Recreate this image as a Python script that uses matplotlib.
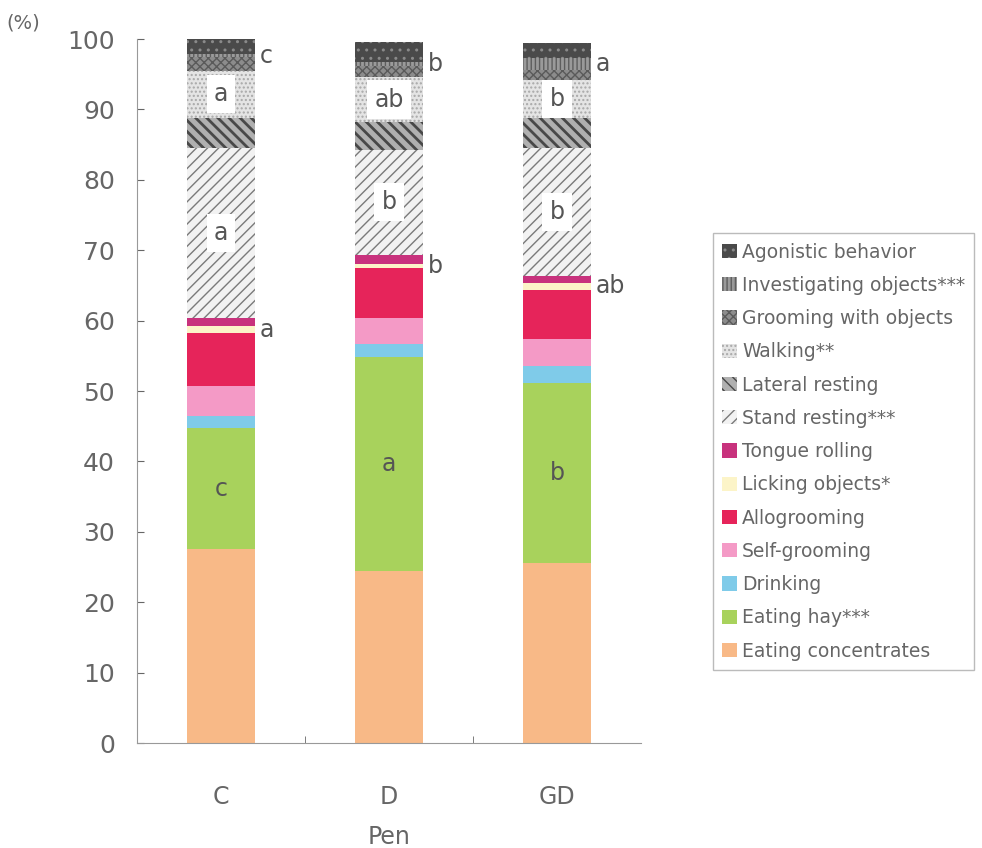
import matplotlib
matplotlib.use("Agg")
import matplotlib.pyplot as plt
import numpy as np

pens = ["C", "D", "GD"]

# behaviours, bottom of the stack first
behaviours = ["Eating concentrates", "Eating hay***", "Drinking", "Self-grooming",
              "Allogrooming", "Licking objects*", "Tongue rolling", "Stand resting***",
              "Lateral resting", "Walking**", "Grooming with objects",
              "Investigating objects***", "Agonistic behavior"]

eating_conc = [27.5, 24.4, 25.5]
eating_hay = [17.3, 30.4, 25.7]
drinking = [1.6, 1.9, 2.3]
self_groom = [4.3, 3.7, 3.9]
allogroom = [7.5, 7.1, 7.0]
licking = [1.0, 0.5, 1.0]
tongue = [1.1, 1.3, 0.9]
stand_rest = [24.2, 15.0, 18.2]
lateral_rest = [4.3, 3.9, 4.3]
walking = [6.7, 6.4, 5.4]
groom_obj = [2.0, 1.6, 1.4]
investigating = [0.3, 0.6, 1.7]
agonistic = [2.2, 2.8, 2.1]

# significance letters per pen
hay_letters = ["c", "a", "b"]
lick_letters = ["a", "b", "ab"]
stand_letters = ["a", "b", "b"]
walk_letters = ["a", "ab", "b"]
invest_letters = ["c", "b", "a"]

series = [eating_conc, eating_hay, drinking, self_groom, allogroom, licking, tongue,
          stand_rest, lateral_rest, walking, groom_obj, investigating, agonistic]

# (facecolor, hatch colour, hatch)
styles = [("#f8b987", None, None),
          ("#a8d25c", None, None),
          ("#7fcbe9", None, None),
          ("#f49ac6", None, None),
          ("#e6245a", None, None),
          ("#fcf4c8", None, None),
          ("#c8327d", None, None),
          ("#f2f2f2", "#7a7a7a", "///"),
          ("#b0b0b0", "#484848", "\\\\\\"),
          ("#e4e4e4", "#a8a8a8", "...."),
          ("#8c8c8c", "#5a5a5a", "xxxx"),
          ("#9a9a9a", "#5e5e5e", "||||"),
          ("#4a4a4a", "#8a8a8a", "..")]

grey = "#666666"

fig = plt.figure(figsize=(9.82, 8.48), dpi=100)
ax = fig.add_axes([0.1395, 0.1238, 0.5132, 0.8302])

x = np.arange(len(pens))
width = 0.4
bottom = np.zeros(len(pens))
handles = []
for name, vals, (fc, hc, hatch) in zip(behaviours, series, styles):
    vals = np.array(vals)
    if hatch:
        bars = ax.bar(x, vals, width, bottom=bottom, color=fc, edgecolor=hc,
                      hatch=hatch, linewidth=0, label=name)
    else:
        bars = ax.bar(x, vals, width, bottom=bottom, color=fc, linewidth=0, label=name)
    for b in bars:
        if hasattr(b, "set_hatch_linewidth"):
            b.set_hatch_linewidth(2.0 if name == "Lateral resting" else 1.0)
    handles.append(bars)
    bottom = bottom + vals

cum = np.cumsum(np.array(series), axis=0)


def mid(i):
    lower = cum[i - 1] if i > 0 else np.zeros(len(pens))
    return (lower + cum[i]) / 2


txt = dict(fontsize=17, color="#555555")
box = dict(facecolor="white", edgecolor="none", boxstyle="square,pad=0.3")
for j in range(len(pens)):
    ax.text(x[j], mid(1)[j], hay_letters[j], ha="center", va="center", **txt)
    ax.text(x[j], mid(7)[j], stand_letters[j], ha="center", va="center", bbox=box, **txt)
    ax.text(x[j], mid(9)[j], walk_letters[j], ha="center", va="center", bbox=box, **txt)
    ax.text(x[j] + width / 2 + 0.03, mid(5)[j], lick_letters[j], ha="left", va="center", **txt)
    ax.text(x[j] + width / 2 + 0.03, mid(11)[j], invest_letters[j], ha="left", va="center", **txt)

ax.set_xlim(-0.5, 2.5)
ax.set_ylim(0, 100)
ax.set_yticks(np.arange(0, 101, 10))
ax.set_xticks(x)
ax.set_xticklabels(pens)
ax.set_xticks([0.5, 1.5], minor=True)
ax.tick_params(axis="y", direction="in", length=5, color=grey, labelcolor=grey,
               labelsize=18, pad=16)
ax.tick_params(axis="x", which="major", length=0, labelcolor=grey, labelsize=17, pad=30)
ax.tick_params(axis="x", which="minor", direction="in", length=5, color=grey)
for s in ["top", "right"]:
    ax.spines[s].set_visible(False)
for s in ["left", "bottom"]:
    ax.spines[s].set_color("#999999")
ax.set_xlabel("Pen", fontsize=17, color=grey, labelpad=12)
fig.text(0.007, 0.973, "(%)", fontsize=14, color=grey, ha="left", va="center")

leg = fig.legend(handles[::-1], behaviours[::-1], loc="upper left",
                 bbox_to_anchor=(0.726, 0.725), borderaxespad=0, frameon=True,
                 fancybox=False, fontsize=13.5, handlelength=0.8, handleheight=0.8,
                 handletextpad=0.25, labelspacing=0.76, borderpad=0.5, labelcolor=grey)
leg.get_frame().set_edgecolor("#aaaaaa")
leg.get_frame().set_linewidth(1.0)

fig.savefig("out.png", dpi=100)
